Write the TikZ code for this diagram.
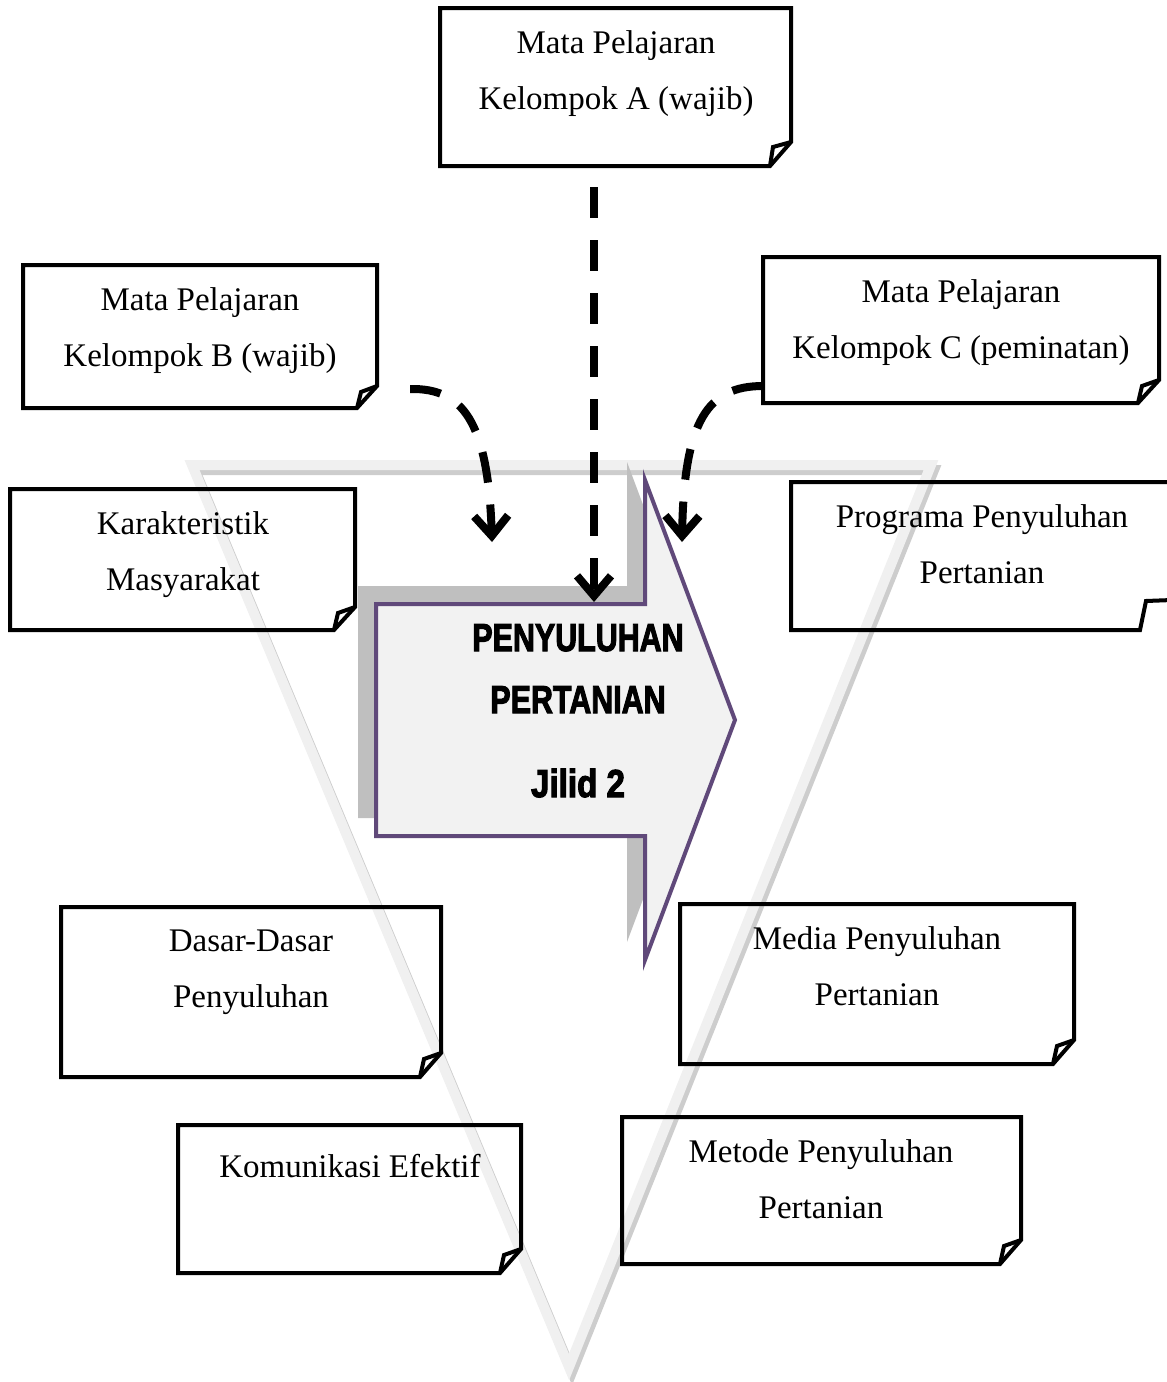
\documentclass[tikz,border=0pt]{standalone}
\usepackage{fontspec}
\setmainfont{Liberation Serif}
\newfontfamily\titlefont[BoldFeatures={FakeBold=3}]{Liberation Sans}
\usetikzlibrary{arrows.meta}
\definecolor{arrowline}{RGB}{96,73,122}
\definecolor{arrowfill}{RGB}{242,242,242}
\definecolor{arrowshadow}{RGB}{191,191,191}
\definecolor{trianglefill}{RGB}{240,240,240}
\definecolor{triangleshadow}{RGB}{205,205,205}

\begin{document}
\begin{tikzpicture}[x=1pt,y=-1pt,
    note/.style={draw=black,line width=4pt,line join=miter},
    notetext/.style={anchor=north,align=center,inner sep=0pt,font=\fontsize{33}{56}\selectfont},
    feed/.style={line width=8pt,dash pattern=on 31pt off 22pt,-{Straight Barb[length=20pt,width=34pt]}}]
    \useasboundingbox (0,0) rectangle (1167,1382);
    % triangle
    \draw[triangleshadow,line width=10pt,line join=miter,shift={(3,5)}] (192,465) -- (931,465) -- (569,1367) -- cycle;
    \draw[trianglefill,line width=10pt,line join=miter] (192,465) -- (931,465) -- (569,1367) -- cycle;
    % group A
    \draw[note] (440,8) -- (791,8) -- (791,142) -- (770,166) -- (440,166) -- cycle;
    \draw[note] (791,142) -- (773,147) -- (770,166);
    \node[notetext] (kelA) at (616,30) {Mata Pelajaran\\Kelompok A (wajib)};
    % group B
    \draw[note] (23,265) -- (377,265) -- (377,386) -- (357,408) -- (23,408) -- cycle;
    \draw[note] (377,386) -- (361,392) -- (357,408);
    \node[notetext] (kelB) at (200,287) {Mata Pelajaran\\Kelompok B (wajib)};
    % group C
    \draw[note] (763,257) -- (1159,257) -- (1159,380) -- (1138,403) -- (763,403) -- cycle;
    \draw[note] (1159,380) -- (1142,386) -- (1138,403);
    \node[notetext] (kelC) at (961,279) {Mata Pelajaran\\Kelompok C (peminatan)};
    % karakteristik
    \draw[note] (10,489) -- (355,489) -- (355,607) -- (334,630) -- (10,630) -- cycle;
    \draw[note] (355,607) -- (338,613) -- (334,630);
    \node[notetext] (karak) at (183,511) {Karakteristik\\Masyarakat};
    % programa
    \draw[note] (791,482) -- (1172,482) -- (1172,600) -- (1146,601) -- (1140,630) -- (791,630) -- cycle;
    \node[notetext] (prog) at (982,504) {Programa Penyuluhan\\Pertanian};
    % dasar-dasar
    \draw[note] (61,907) -- (441,907) -- (441,1053) -- (420,1077) -- (61,1077) -- cycle;
    \draw[note] (441,1053) -- (424,1059) -- (420,1077);
    \node[notetext] (dasar) at (251,930) {Dasar-Dasar\\Penyuluhan};
    % media
    \draw[note] (680,904) -- (1074,904) -- (1074,1040) -- (1053,1064) -- (680,1064) -- cycle;
    \draw[note] (1074,1040) -- (1057,1046) -- (1053,1064);
    \node[notetext] (media) at (877,926) {Media Penyuluhan\\Pertanian};
    % komunikasi
    \draw[note] (178,1125) -- (521,1125) -- (521,1249) -- (500,1273) -- (178,1273) -- cycle;
    \draw[note] (521,1249) -- (504,1255) -- (500,1273);
    \node[notetext] (komu) at (350,1154) {Komunikasi Efektif};
    % metode
    \draw[note] (622,1117) -- (1021,1117) -- (1021,1240) -- (1000,1264) -- (622,1264) -- cycle;
    \draw[note] (1021,1240) -- (1004,1246) -- (1000,1264);
    \node[notetext] (metode) at (821,1139) {Metode Penyuluhan\\Pertanian};
    % big arrow
    \fill[arrowshadow] (358,586) -- (627,586) -- (627,462) -- (717,702) -- (627,942) -- (627,818) -- (358,818) -- cycle;
    \draw[arrowline,fill=arrowfill,line width=4pt,line join=miter] (376,604) -- (645,604) -- (645,480) -- (735,720) -- (645,960) -- (645,836) -- (376,836) -- cycle;
    \node[anchor=north,align=center,inner sep=0pt,font=\titlefont\bfseries\fontsize{39}{62}\selectfont] (judul) at (578,624)
        {\scalebox{0.78}[1]{PENYULUHAN}\\\scalebox{0.78}[1]{PERTANIAN}\\[22pt]\scalebox{0.85}[1]{Jilid 2}};
    % feeds
    \coordinate (fromA) at (594,187);
    \coordinate (toA) at (594,602);
    \coordinate (fromB) at (410,389);
    \coordinate (toB) at (492,542);
    \coordinate (fromC) at (763,386);
    \coordinate (toC) at (682,542);
    \draw[feed] (fromA) -- (toA);
    \draw[feed] (fromB) .. controls (462,388) and (488,420) .. (toB);
    \draw[feed] (fromC) .. controls (708,386) and (684,420) .. (toC);
\end{tikzpicture}
\end{document}
